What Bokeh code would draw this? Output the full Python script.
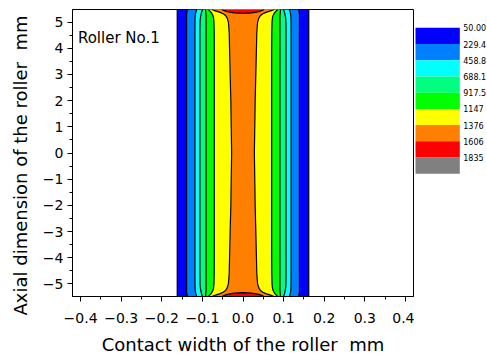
from bokeh.plotting import figure
from bokeh.layouts import row
from bokeh.models import Range1d, FixedTicker, CustomJSTickFormatter, Title
from bokeh.core.properties import value
from bokeh.embed import file_html
from bokeh.resources import INLINE

# ---------------- data ----------------
levels = [50.00, 229.4, 458.8, 688.1, 917.5, 1147, 1376, 1606, 1835]
level_labels = ["50.00", "229.4", "458.8", "688.1", "917.5", "1147", "1376", "1606", "1835"]
colors = ["#0000FF", "#0080FF", "#00FFFF", "#00FF80", "#00FF00",
          "#FFFF00", "#FF8000", "#FF0000", "#808080"]

# axial stations (upper half, mirrored for the lower half), mm
y_stations = [0.0, 2.0, 3.9, 4.6, 5.0, 5.15, 5.25, 5.32, 5.38, 5.43, 5.46, 5.48]
# half-widths (mm) of each iso-pressure line at those stations
hw_50 = [0.162, 0.162, 0.162, 0.162, 0.162, 0.162, 0.162, 0.162, 0.162, 0.162, 0.162, 0.162]
hw_229 = [0.139, 0.139, 0.139, 0.139, 0.139, 0.139, 0.139, 0.139, 0.138, 0.138, 0.137, 0.137]
hw_459 = [0.1185, 0.1185, 0.1185, 0.1185, 0.1183, 0.118, 0.1175, 0.117, 0.116, 0.115, 0.1145, 0.114]
hw_688 = [0.106, 0.106, 0.106, 0.106, 0.1058, 0.105, 0.104, 0.103, 0.102, 0.101, 0.100, 0.0995]
hw_918 = [0.091, 0.091, 0.091, 0.091, 0.091, 0.091, 0.091, 0.0915, 0.092, 0.092, 0.0925, 0.093]
hw_1147 = [0.0707, 0.0707, 0.0707, 0.071, 0.0715, 0.0725, 0.074, 0.0765, 0.079, 0.082, 0.084, 0.085]
hw_1376 = [0.028, 0.030, 0.033, 0.034, 0.036, 0.039, 0.043, 0.049, 0.058, 0.068, 0.074, 0.077]
# 1606 iso-line: small lens at each roller end
red_y = [5.33, 5.35, 5.38, 5.41, 5.445, 5.48]
red_hw = [0.0, 0.021, 0.033, 0.041, 0.047, 0.052]

x_ticks = [-0.4, -0.3, -0.2, -0.1, 0.0, 0.1, 0.2, 0.3, 0.4]
x_tick_labels = ["\u22120.4", "\u22120.3", "\u22120.2", "\u22120.1", "0.0", "0.1", "0.2", "0.3", "0.4"]
x_minor = [-0.45, -0.35, -0.25, -0.15, -0.05, 0.05, 0.15, 0.25, 0.35, 0.45]
y_ticks = [-5, -4, -3, -2, -1, 0, 1, 2, 3, 4, 5]
y_tick_labels = ["\u22125", "\u22124", "\u22123", "\u22122", "\u22121", "0", "1", "2", "3", "4", "5"]
y_minor = [-5.5, -4.5, -3.5, -2.5, -1.5, -0.5, 0.5, 1.5, 2.5, 3.5, 4.5, 5.5]

FONT = "DejaVu Sans"

# ---------------- main plot ----------------
p = figure(width=414, height=358, x_range=Range1d(-0.42, 0.42), y_range=Range1d(-5.48, 5.48),
           output_backend="svg", toolbar_location=None,
           min_border_left=72, min_border_right=1, min_border_top=9, min_border_bottom=62)
p.background_fill_color = "white"
p.border_fill_color = "white"
p.outline_line_color = "black"
p.outline_line_width = 1
p.outline_line_alpha = 1
p.grid.visible = False


def mirror(vals):
    return list(reversed(vals)) + vals[1:]


y_full = [-v for v in reversed(y_stations)] + y_stations[1:]
bands = [hw_50, hw_229, hw_459, hw_688, hw_918, hw_1147, hw_1376]
for w, c in zip(bands, colors[:7]):
    wf = mirror(w)
    p.harea(x1=[-v for v in wf], x2=wf, y=y_full, fill_color=c, fill_alpha=1)

# red lenses at both ends
p.harea(x1=[-v for v in red_hw], x2=red_hw, y=red_y, fill_color=colors[7], fill_alpha=1)
p.harea(x1=[-v for v in red_hw], x2=red_hw, y=[-v for v in red_y], fill_color=colors[7], fill_alpha=1)

# iso-lines
for w in bands:
    wf = mirror(w)
    p.line(x=[-v for v in wf], y=y_full, line_color="black", line_width=1.2)
    p.line(x=wf, y=y_full, line_color="black", line_width=1.2)
lens_x = [-v for v in reversed(red_hw)] + red_hw[1:]
lens_y = list(reversed(red_y)) + red_y[1:]
p.line(x=lens_x, y=lens_y, line_color="black", line_width=1.2)
p.line(x=lens_x, y=[-v for v in lens_y], line_color="black", line_width=1.2)

p.text(x=[-0.4066], y=[4.40], text=["Roller No.1"], text_font=value(FONT),
       text_font_size="15px", text_baseline="middle", text_align="left", text_color="black")

# axes
p.xaxis.ticker = FixedTicker(ticks=x_ticks, minor_ticks=x_minor)
p.yaxis.ticker = FixedTicker(ticks=y_ticks, minor_ticks=y_minor)
fmt_code = ("const i = tvals.findIndex(t => Math.abs(t - tick) < 1e-9);"
            "return i >= 0 ? tlabels[i] : '';")
p.xaxis.formatter = CustomJSTickFormatter(args=dict(tvals=x_ticks, tlabels=x_tick_labels), code=fmt_code)
p.yaxis.formatter = CustomJSTickFormatter(args=dict(tvals=y_ticks, tlabels=y_tick_labels), code=fmt_code)
p.xaxis.axis_label = "Contact width of the roller \u00a0mm"
for ax in (p.xaxis, p.yaxis):
    ax.axis_label_text_font = FONT
    ax.axis_label_text_font_style = "normal"
    ax.axis_label_text_font_size = "18px"
    ax.axis_label_text_color = "black"
    ax.major_label_text_font = FONT
    ax.major_label_text_font_size = "14px"
    ax.major_label_text_color = "black"
    ax.axis_line_color = "black"
    ax.major_tick_line_color = "black"
    ax.minor_tick_line_color = "black"
    ax.major_tick_in = 0
    ax.major_tick_out = 5
    ax.minor_tick_in = 0
    ax.minor_tick_out = 3
p.xaxis.major_label_standoff = 11
p.xaxis.axis_label_standoff = 8
p.yaxis.major_label_standoff = 4

# y-axis title, shifted a little below the frame centre as in the original
ytitle = Title(text="Axial dimension of the roller \u00a0mm", text_font=FONT,
               text_font_size="18px", text_font_style="normal", text_color="black",
               align="left", offset=-19, vertical_align="middle", standoff=16)
p.add_layout(ytitle, "left")

# ---------------- legend (stepped colour key) ----------------
# frame of this figure spans page y 9..296, so the y range is given in page pixels
leg = figure(width=73, height=358, x_range=Range1d(0, 73), y_range=Range1d(296, 9),
             output_backend="svg", toolbar_location=None,
             x_axis_location=None, y_axis_location=None,
             min_border_left=0, min_border_right=0, min_border_top=9, min_border_bottom=62)
leg.grid.visible = False
leg.outline_line_color = None
leg.background_fill_color = "white"
leg.border_fill_color = "white"
key_top = 27.3
key_h = 16.22
tops = [key_top + i * key_h for i in range(len(levels))]
bottoms = [t + key_h for t in tops]
leg.quad(left=1, right=45.3, top=tops, bottom=bottoms, fill_color=colors, line_color=None)
leg.text(x=48.7, y=tops, text=level_labels, text_font=value(FONT), text_font_size="8px",
         text_baseline="middle", text_align="left", text_color="black")

layout = row(p, leg)
open("out.html", "w").write(file_html(layout, INLINE))
